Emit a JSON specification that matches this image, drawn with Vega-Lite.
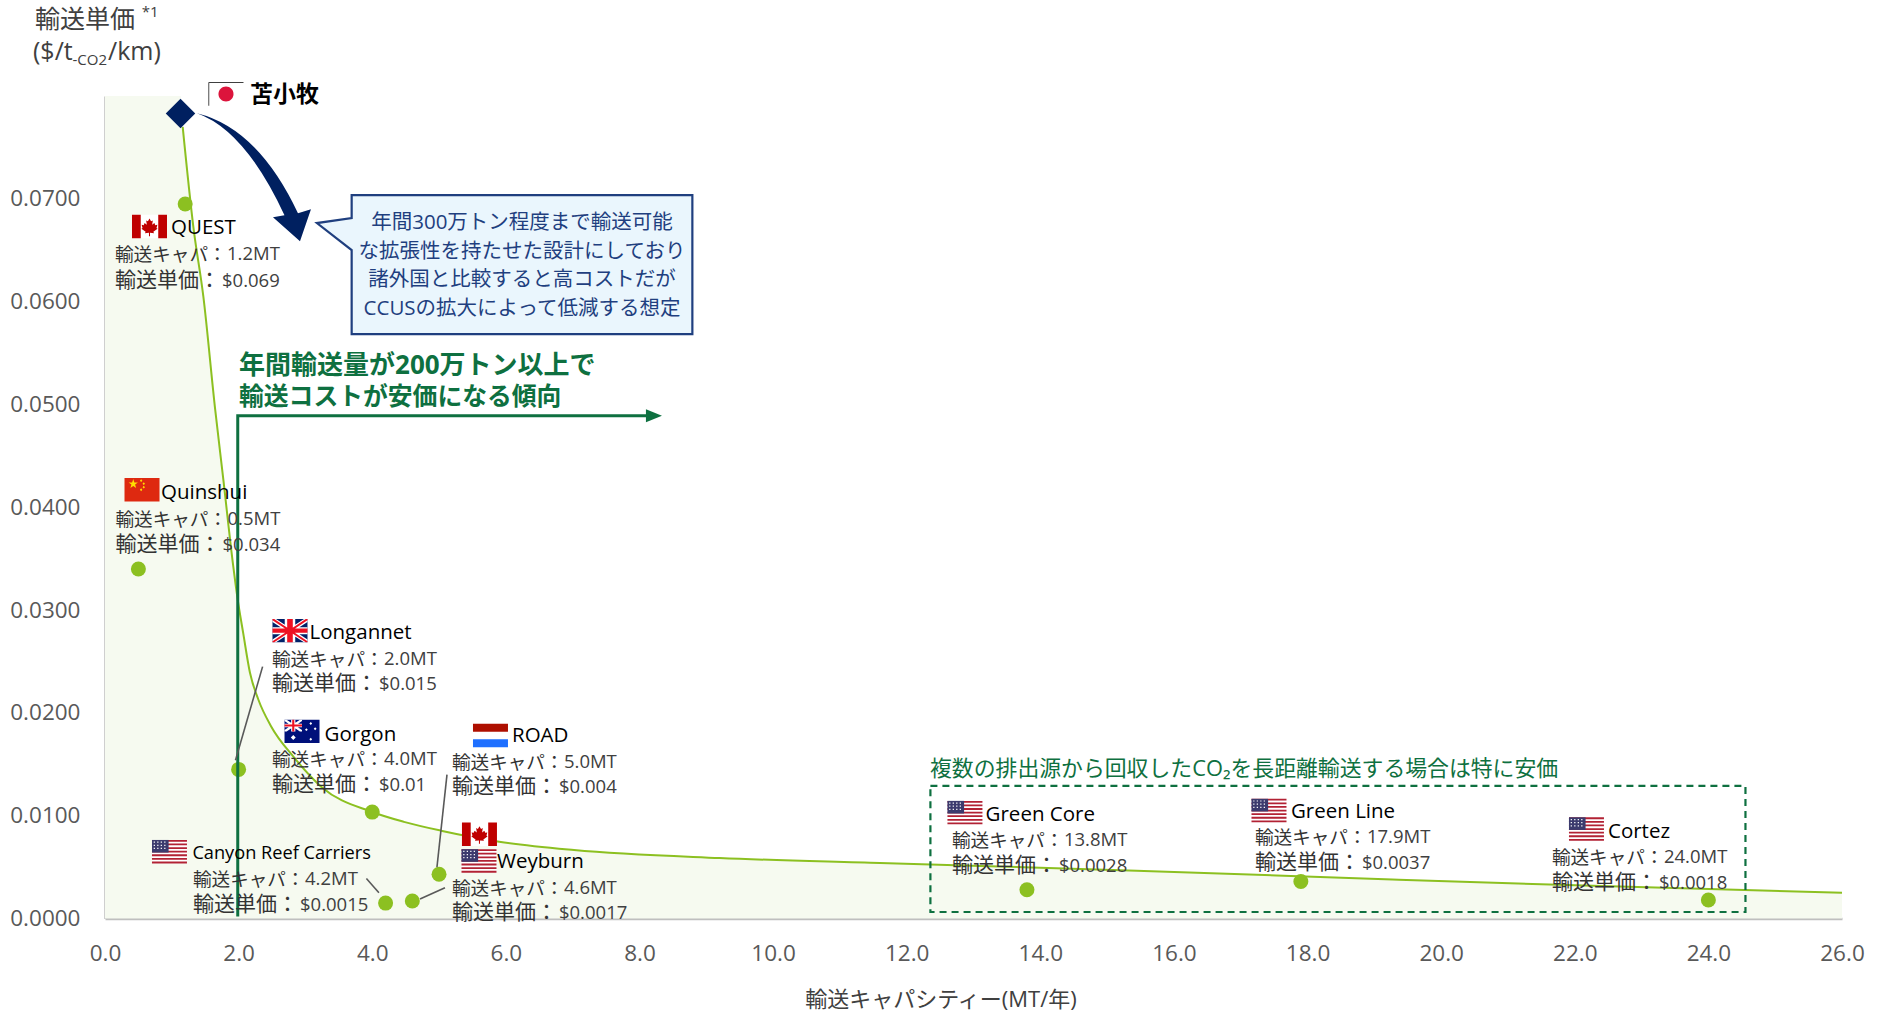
{
"$schema":"https://vega.github.io/schema/vega-lite/v6.json",
"autosize":{"type":"none"},
"padding":{"left":105,"top":96,"right":41,"bottom":93},
"width":1737,"height":822.5,
"background":"white",
"config":{"view":{"stroke":null},"font":"Open Sans"},
"datasets":{
"area":[{"x":0,"y":0.08},{"x":1.13,"y":0.08},{"x":1.163,"y":0.077},{"x":1.322,"y":0.0673},{"x":1.472,"y":0.0605},{"x":1.646,"y":0.0497},{"x":1.771,"y":0.0427},{"x":1.921,"y":0.0342},{"x":1.98,"y":0.0313},{"x":2.07,"y":0.0277},{"x":2.17,"y":0.0239},{"x":2.295,"y":0.0213},{"x":2.485,"y":0.0187},{"x":2.826,"y":0.0157},{"x":3.24,"y":0.0128},{"x":4.0,"y":0.01036},{"x":4.475,"y":0.0094},{"x":5.03,"y":0.00854},{"x":5.9,"y":0.00747},{"x":7.02,"y":0.00666},{"x":9.2,"y":0.00588},{"x":11.6,"y":0.0054},{"x":15.44,"y":0.00465},{"x":19.27,"y":0.0038},{"x":22.14,"y":0.0032},{"x":26,"y":0.0025}],
"curve":[{"x":1.163,"y":0.077},{"x":1.322,"y":0.0673},{"x":1.472,"y":0.0605},{"x":1.646,"y":0.0497},{"x":1.771,"y":0.0427},{"x":1.921,"y":0.0342},{"x":1.98,"y":0.0313},{"x":2.07,"y":0.0277},{"x":2.17,"y":0.0239},{"x":2.295,"y":0.0213},{"x":2.485,"y":0.0187},{"x":2.826,"y":0.0157},{"x":3.24,"y":0.0128},{"x":4.0,"y":0.01036},{"x":4.475,"y":0.0094},{"x":5.03,"y":0.00854},{"x":5.9,"y":0.00747},{"x":7.02,"y":0.00666},{"x":9.2,"y":0.00588},{"x":11.6,"y":0.0054},{"x":15.44,"y":0.00465},{"x":19.27,"y":0.0038},{"x":22.14,"y":0.0032},{"x":26,"y":0.0025}],
"projects":[{"name":"QUEST","x":1.2,"y":0.0695},{"name":"Quinshui","x":0.5,"y":0.034},{"name":"Longannet","x":2.0,"y":0.0145},{"name":"Gorgon","x":4.0,"y":0.01035},{"name":"ROAD","x":5.0,"y":0.0043},{"name":"Weyburn","x":4.6,"y":0.0017},{"name":"Canyon Reef Carriers","x":4.2,"y":0.0015},{"name":"Green Core","x":13.8,"y":0.0028},{"name":"Green Line","x":17.9,"y":0.0036},{"name":"Cortez","x":24.0,"y":0.0018}],
"tomakomai":[{"name":"苫小牧","x":1.13,"y":0.0783}],
"trend":[{"x":1.987,"y":0.0002},{"x":1.987,"y":0.0489},{"x":8.2,"y":0.0489}],
"trendHead":[{"x":8.217,"y":0.0489}],
"box":[{"x":12.355,"x2":24.555,"y":0.01289,"y2":0.00063}],
"leaders":[{"id":"Longannet","x":2.359,"y":0.0245},{"id":"Longannet","x":1.953,"y":0.0154},{"id":"ROAD","x":5.119,"y":0.0140},{"id":"ROAD","x":4.969,"y":0.0050},{"id":"Weyburn","x":5.089,"y":0.0030},{"id":"Weyburn","x":4.715,"y":0.0019},{"id":"Canyon","x":3.913,"y":0.0039},{"id":"Canyon","x":4.10,"y":0.0025}],
"callout":[{"x":6.242,"y":0.0636}],
"bigArrow":[{"x":2.170,"y":0.0723}],
"flags":[
{"flag":"苫小牧","x":1.811,"y":0.0802,"parts":["white","jpEdge","jpDot"]},
{"flag":"QUEST","x":0.666,"y":0.0673,"parts":["white","caRed"]},
{"flag":"Quinshui","x":0.554,"y":0.0417,"parts":["cnRed","cnStar"]},
{"flag":"Longannet","x":2.769,"y":0.0280,"parts":["ukBlue","ukWhite","ukRed"]},
{"flag":"Gorgon","x":2.949,"y":0.0182,"parts":["auBlue","auWhite","auRed"]},
{"flag":"ROAD","x":5.770,"y":0.0178,"parts":["white","nlRed","nlBlue"]},
{"flag":"Weyburn CA","x":5.605,"y":0.0082,"parts":["white","caRed"]},
{"flag":"Weyburn US","x":5.598,"y":0.0056,"parts":["white","usRed","usBlue","usStar"]},
{"flag":"Canyon Reef Carriers","x":0.965,"y":0.0065,"parts":["white","usRed","usBlue","usStar"]},
{"flag":"Green Core","x":12.872,"y":0.0103,"parts":["white","usRed","usBlue","usStar"]},
{"flag":"Green Line","x":17.423,"y":0.0105,"parts":["white","usRed","usBlue","usStar"]},
{"flag":"Cortez","x":22.175,"y":0.0087,"parts":["white","usRed","usBlue","usStar"]}
],
"titleBig":[{"t":"輸送単価","x":-1.048,"y":0.0874},{"t":"($/t","x":-1.078,"y":0.0843},{"t":"/km)","x":0.045,"y":0.0843}],
"titleSmall":[{"t":"*1","x":0.55,"y":0.0882},{"t":"-CO2","x":-0.486,"y":0.0835}],
"xTitle":[{"t":"輸送キャパシティー(MT/年)","x":12.513,"y":-0.00796}],
"nameBold":[{"t":"苫小牧","x":2.170,"y":0.0801}],
"names":[{"t":"QUEST","x":0.988,"y":0.06715},{"t":"Quinshui","x":0.838,"y":0.04135},{"t":"Longannet","x":3.061,"y":0.02775},{"t":"Gorgon","x":3.287,"y":0.01785},{"t":"ROAD","x":6.092,"y":0.01775},{"t":"Weyburn","x":5.867,"y":0.00545},{"t":"Green Core","x":13.181,"y":0.01005},{"t":"Green Line","x":17.752,"y":0.01035},{"t":"Cortez","x":22.497,"y":0.00845}],
"namesSmall":[{"t":"Canyon Reef Carriers","x":1.308,"y":0.0063}],
"detailCap":[
{"t":"輸送キャパ：","x":0.150,"y":0.0645},{"t":"輸送キャパ：","x":0.157,"y":0.0388},{"t":"輸送キャパ：","x":2.5,"y":0.0251},{"t":"輸送キャパ：","x":2.5,"y":0.0154},{"t":"輸送キャパ：","x":5.194,"y":0.0151},{"t":"輸送キャパ：","x":1.317,"y":0.0037},{"t":"輸送キャパ：","x":5.194,"y":0.0029},{"t":"輸送キャパ：","x":12.678,"y":0.0075},{"t":"輸送キャパ：","x":17.213,"y":0.0078},{"t":"輸送キャパ：","x":21.658,"y":0.0059}],
"detailUnit":[
{"t":"輸送単価：","x":0.150,"y":0.0620},{"t":"輸送単価：","x":0.157,"y":0.0363},{"t":"輸送単価：","x":2.5,"y":0.0228},{"t":"輸送単価：","x":2.5,"y":0.0130},{"t":"輸送単価：","x":5.194,"y":0.0128},{"t":"輸送単価：","x":1.317,"y":0.0013},{"t":"輸送単価：","x":5.194,"y":0.0005},{"t":"輸送単価：","x":12.678,"y":0.0051},{"t":"輸送単価：","x":17.213,"y":0.0054},{"t":"輸送単価：","x":21.658,"y":0.0035}],
"detailVal":[
{"t":"1.2MT","x":1.826,"y":0.0646},{"t":"$0.069","x":1.751,"y":0.0620},
{"t":"0.5MT","x":1.834,"y":0.0389},{"t":"$0.034","x":1.759,"y":0.0363},
{"t":"2.0MT","x":4.176,"y":0.0252},{"t":"$0.015","x":4.101,"y":0.0228},
{"t":"4.0MT","x":4.176,"y":0.0155},{"t":"$0.01","x":4.101,"y":0.0130},
{"t":"5.0MT","x":6.870,"y":0.0152},{"t":"$0.004","x":6.795,"y":0.0128},
{"t":"4.2MT","x":2.994,"y":0.0038},{"t":"$0.0015","x":2.919,"y":0.0013},
{"t":"4.6MT","x":6.870,"y":0.0030},{"t":"$0.0017","x":6.795,"y":0.0005},
{"t":"13.8MT","x":14.354,"y":0.0076},{"t":"$0.0028","x":14.279,"y":0.0051},
{"t":"17.9MT","x":18.889,"y":0.0079},{"t":"$0.0037","x":18.814,"y":0.0054},
{"t":"24.0MT","x":23.335,"y":0.0060},{"t":"$0.0018","x":23.260,"y":0.0035}],
"greenHead1":[{"t":"年間輸送量が200万トン以上で","x":2.006,"y":0.0537}],
"greenHead2":[{"t":"輸送コストが安価になる傾向","x":2.006,"y":0.0506}],
"greenNote":[{"t":"複数の排出源から回収したCO₂を長距離輸送する場合は特に安価","x":12.349,"y":0.0145}],
"calloutText":[{"t":"年間300万トン程度まで輸送可能","x":6.242,"y":0.0676},{"t":"な拡張性を持たせた設計にしており","x":6.242,"y":0.0648},{"t":"諸外国と比較すると高コストだが","x":6.242,"y":0.0621},{"t":"CCUSの拡大によって低減する想定","x":6.242,"y":0.0593}]
},
"encoding":{
"x":{"field":"x","type":"quantitative","scale":{"domain":[0,26],"nice":false,"zero":false},"axis":{"title":null,"values":[0,2,4,6,8,10,12,14,16,18,20,22,24,26],"format":".1f","grid":false,"ticks":false,"domainColor":"#bfbfbf","domainWidth":2.5,"labelColor":"#595959","labelFontSize":22.5,"labelFont":"Open Sans","labelPadding":24,"labelOverlap":false,"labelFlush":false}},
"y":{"field":"y","type":"quantitative","scale":{"domain":[0,0.08],"nice":false,"zero":false},"axis":{"title":null,"values":[0,0.01,0.02,0.03,0.04,0.05,0.06,0.07],"format":".4f","grid":false,"ticks":false,"domainColor":"#bfbfbf","domainWidth":2.5,"labelColor":"#595959","labelFontSize":22.5,"labelFont":"Open Sans","labelPadding":25,"labelOverlap":false,"labelFlush":false}}
},
"layer":[
{"data":{"name":"area"},"mark":{"type":"area","color":"#f6faf0","interpolate":"monotone","clip":false},"encoding":{}},
{"data":{"name":"curve"},"mark":{"type":"line","color":"#8cc021","strokeWidth":2,"interpolate":"monotone"},"encoding":{}},
{"data":{"name":"projects"},"mark":{"type":"circle","color":"#8cc021","size":225,"opacity":1},"encoding":{}},
{"data":{"name":"tomakomai"},"mark":{"type":"point","shape":"M0,-1L1,0L0,1L-1,0Z","filled":true,"color":"#002060","size":870,"opacity":1},"encoding":{}},
{"data":{"name":"trend"},"mark":{"type":"line","color":"#0e7040","strokeWidth":3,"interpolate":"linear"},"encoding":{"order":{"field":"y","type":"quantitative"}}},
{"data":{"name":"trendHead"},"mark":{"type":"point","shape":"M-1,-.8L1,0L-1,.8Z","filled":true,"color":"#0e7040","size":256,"opacity":1},"encoding":{}},
{"data":{"name":"box"},"mark":{"type":"rect","fill":null,"fillOpacity":0,"stroke":"#0e7040","strokeWidth":2.2,"strokeDash":[7,5]},"encoding":{"x2":{"field":"x2"},"y2":{"field":"y2"}}},
{"data":{"name":"leaders"},"mark":{"type":"line","color":"#595959","strokeWidth":1.6},"encoding":{"detail":{"field":"id"}}},
{"data":{"name":"bigArrow"},"mark":{"type":"point","shape":"M-.53,-.62Q.08,-.47 .48,.38L.61,.34L.50,.66L.23,.42L.345,.40Q-.05,-.45 -.53,-.62Z","filled":true,"color":"#002060","size":40000,"opacity":1},"encoding":{}},
{"data":{"name":"callout"},"mark":{"type":"point","shape":"M-1,-.408L1,-.408L1,.408L-1,.408L-1,-.085L-1.204,-.244L-1,-.273Z","filled":true,"fill":"#eaf6fd","stroke":"#1f3f7f","strokeWidth":2.2,"size":116076,"opacity":1},"encoding":{}},
{"data":{"name":"flags"},"transform":[{"flatten":["parts"],"as":["part"]}],"mark":{"type":"point","filled":true,"size":1225,"opacity":1,"strokeWidth":0},"encoding":{
"shape":{"field":"part","type":"nominal","legend":null,"scale":{
"domain":["white","usRed","usBlue","usStar","caRed","jpEdge","jpDot","cnRed","cnStar","nlRed","nlBlue","ukBlue","ukWhite","ukRed","auBlue","auWhite","auRed"],
"range":[
"M-1,-.67H1V.67H-1Z",
"M-1,-.67H1V-.567H-1ZM-1,-.464H1V-.361H-1ZM-1,-.258H1V-.155H-1ZM-1,-.052H1V.051H-1ZM-1,.154H1V.257H-1ZM-1,.36H1V.463H-1ZM-1,.566H1V.67H-1Z",
"M-1,-.67H-.05V.051H-1Z",
"M-.9,-.58h.07v.07h-.07zM-.7,-.58h.07v.07h-.07zM-.5,-.58h.07v.07h-.07zM-.3,-.58h.07v.07h-.07zM-.9,-.4h.07v.07h-.07zM-.7,-.4h.07v.07h-.07zM-.5,-.4h.07v.07h-.07zM-.3,-.4h.07v.07h-.07zM-.9,-.22h.07v.07h-.07zM-.7,-.22h.07v.07h-.07zM-.5,-.22h.07v.07h-.07zM-.3,-.22h.07v.07h-.07z",
"M-1,-.67H-.5V.67H-1ZM.5,-.67H1V.67H.5ZM0,-.46L.09,-.3L.19,-.35L.15,-.1L.28,-.2L.33,-.08L.45,-.1L.4,.08L.46,.13L.22,.3L.26,.38L.03,.36L.03,.55L-.03,.55L-.03,.36L-.26,.38L-.22,.3L-.46,.13L-.4,.08L-.45,-.1L-.33,-.08L-.28,-.2L-.15,-.1L-.19,-.35L-.09,-.3Z",
"M-1,-.67H1V-.63H-1ZM-1,-.67H-.96V.67H-1Z",
"M-.43,0A.43,.43 0 1,1 .43,0A.43,.43 0 1,1 -.43,0Z",
"M-1,-.67H1V.67H-1Z",
"M-.5,-.61L-.435,-.419L-.234,-.417L-.395,-.296L-.335,-.103L-.5,-.22L-.665,-.103L-.605,-.296L-.766,-.417L-.565,-.419ZM-.05,-.6L.02,-.52L-.05,-.44L-.12,-.52ZM.1,-.43L.17,-.35L.1,-.27L.03,-.35ZM.1,-.23L.17,-.15L.1,-.07L.03,-.15ZM-.05,-.08L.02,0L-.05,.08L-.12,0Z",
"M-1,-.67H1V-.22H-1Z",
"M-1,.22H1V.67H-1Z",
"M-1,-.67H1V.67H-1Z",
"M-1,-.67L-.8,-.67L1,.5L1,.67L.8,.67L-1,-.5ZM1,-.67L1,-.5L-.8,.67L-1,.67L-1,.5L.8,-.67ZM-.3,-.67H.3V.67H-.3ZM-1,-.2H1V.2H-1Z",
"M-1,-.67L-.9,-.67L1,.6L1,.67L.9,.67L-1,-.6ZM1,-.67L1,-.6L-.9,.67L-1,.67L-1,.6L.9,-.67ZM-.16,-.67H.16V.67H-.16ZM-1,-.12H1V.12H-1Z",
"M-1,-.67H1V.67H-1Z",
"M-1,-.67L-.88,-.67L0,-.08L0,0L-.12,0L-1,-.59ZM0,-.67L0,-.59L-.88,0L-1,0L-1,-.08L-.12,-.67ZM-.62,-.67H-.38V0H-.62ZM-1,-.43H0V-.24H-1ZM.5,-.53L.58,-.45L.5,-.37L.42,-.45ZM.75,-.23L.83,-.15L.75,-.07L.67,-.15ZM.25,-.18L.33,-.1L.25,-.02L.17,-.1ZM.5,.37L.58,.45L.5,.53L.42,.45ZM-.5,.21L-.36,.35L-.5,.49L-.64,.35Z",
"M-.56,-.67H-.44V0H-.56ZM-1,-.39H0V-.28H-1Z"
]}},
"color":{"field":"part","type":"nominal","legend":null,"scale":{
"domain":["white","usRed","usBlue","usStar","caRed","jpEdge","jpDot","cnRed","cnStar","nlRed","nlBlue","ukBlue","ukWhite","ukRed","auBlue","auWhite","auRed"],
"range":["#ffffff","#b22234","#3c3b6e","#ffffff","#bf0000","#000000","#dc143c","#de2910","#ffde00","#ae0f00","#1e6fff","#012169","#ffffff","#ee1122","#00107a","#ffffff","#ee1122"]}}
}},
{"data":{"name":"titleBig"},"mark":{"type":"text","align":"left","baseline":"middle","font":"Open Sans, Noto Sans CJK JP","fontSize":25,"color":"#404040"},"encoding":{"text":{"field":"t"}}},
{"data":{"name":"titleSmall"},"mark":{"type":"text","align":"left","baseline":"middle","font":"Open Sans, Noto Sans CJK JP","fontSize":15,"color":"#404040"},"encoding":{"text":{"field":"t"}}},
{"data":{"name":"xTitle"},"mark":{"type":"text","align":"center","baseline":"middle","font":"Open Sans, Noto Sans CJK JP","fontSize":22,"color":"#404040"},"encoding":{"text":{"field":"t"}}},
{"data":{"name":"nameBold"},"mark":{"type":"text","align":"left","baseline":"middle","font":"Noto Sans CJK JP","fontSize":23,"fontWeight":"bold","color":"#000000"},"encoding":{"text":{"field":"t"}}},
{"data":{"name":"names"},"mark":{"type":"text","align":"left","baseline":"middle","font":"Open Sans","fontSize":20.5,"color":"#000000"},"encoding":{"text":{"field":"t"}}},
{"data":{"name":"namesSmall"},"mark":{"type":"text","align":"left","baseline":"middle","font":"Open Sans","fontSize":18.2,"color":"#000000"},"encoding":{"text":{"field":"t"}}},
{"data":{"name":"detailCap"},"mark":{"type":"text","align":"left","baseline":"middle","font":"Noto Sans CJK JP","fontSize":18.6,"color":"#333333"},"encoding":{"text":{"field":"t"}}},
{"data":{"name":"detailUnit"},"mark":{"type":"text","align":"left","baseline":"middle","font":"Noto Sans CJK JP","fontSize":21,"color":"#333333"},"encoding":{"text":{"field":"t"}}},
{"data":{"name":"detailVal"},"mark":{"type":"text","align":"left","baseline":"middle","font":"Open Sans","fontSize":18.5,"color":"#404040"},"encoding":{"text":{"field":"t"}}},
{"data":{"name":"greenHead1"},"mark":{"type":"text","align":"left","baseline":"middle","font":"Open Sans, Noto Sans CJK JP","fontSize":26,"fontWeight":"bold","color":"#0e7040"},"encoding":{"text":{"field":"t"}}},
{"data":{"name":"greenHead2"},"mark":{"type":"text","align":"left","baseline":"middle","font":"Open Sans, Noto Sans CJK JP","fontSize":24.8,"fontWeight":"bold","color":"#0e7040"},"encoding":{"text":{"field":"t"}}},
{"data":{"name":"greenNote"},"mark":{"type":"text","align":"left","baseline":"middle","font":"Open Sans, Noto Sans CJK JP","fontSize":21.85,"color":"#0e7040"},"encoding":{"text":{"field":"t"}}},
{"data":{"name":"calloutText"},"mark":{"type":"text","align":"center","baseline":"middle","font":"Open Sans, Noto Sans CJK JP","fontSize":20.5,"color":"#1f3f7f"},"encoding":{"text":{"field":"t"}}}
]
}
